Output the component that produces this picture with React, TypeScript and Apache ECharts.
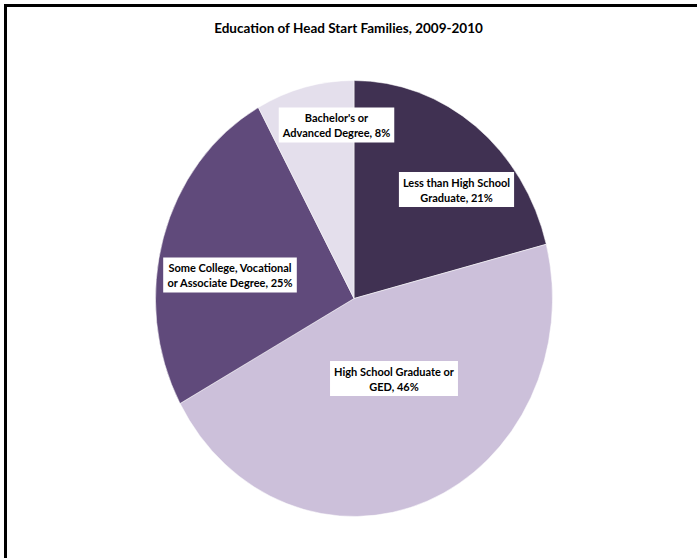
import React, { useEffect, useRef } from "react";
import * as echarts from "echarts";

const TITLE = "Education of Head Start Families, 2009-2010";
const categories = [
  "Less than High School\nGraduate",
  "High School Graduate or\nGED",
  "Some College, Vocational\nor Associate Degree",
  "Bachelor's or\nAdvanced Degree",
];
const values = [21, 46, 25, 8];
const colors = ["#403152", "#CCC0DA", "#604A7B", "#E4DFEC"];
// label box centres (layout only)
const labelCenters = [
  [456.5, 189.5],
  [394, 378.5],
  [230, 275],
  [336.5, 125],
];

const W = 697;
const H = 558;
const CX = 354;
const CY = 298.5;
const RX = 198.5;
const RY = 218;
const FONT = "Lato, 'Open Sans', sans-serif";

export default function App() {
  const pieRef = useRef<HTMLDivElement>(null);
  const topRef = useRef<HTMLDivElement>(null);

  useEffect(() => {
    document.body.style.margin = "0";
    const pie = echarts.init(pieRef.current!, undefined, { renderer: "svg" });
    const top = echarts.init(topRef.current!, undefined, { renderer: "svg" });
    const data = categories.map((c, i) => ({ name: c, value: values[i] }));

    pie.setOption({
      animation: false,
      series: [
        {
          type: "pie",
          center: [CX, CY],
          radius: RX,
          startAngle: 90,
          clockwise: true,
          silent: true,
          label: { show: false },
          labelLine: { show: false },
          itemStyle: {
            color: (p: any) => colors[p.dataIndex],
            borderColor: "#ffffff",
            borderWidth: 0.5,
          },
          data,
        },
      ],
    });

    top.setOption({
      animation: false,
      title: {
        text: TITLE,
        left: "center",
        top: 16,
        textStyle: {
          fontFamily: FONT,
          fontWeight: "bold",
          fontSize: 13.5,
          color: "#000000",
        },
      },
      graphic: [
        {
          type: "rect",
          shape: { x: 5.5, y: 5.5, width: W + 20, height: H + 20 },
          style: { fill: "none", stroke: "#000000", lineWidth: 3 },
          silent: true,
        },
      ],
      series: [
        {
          type: "pie",
          center: [CX, CY],
          radius: RX,
          startAngle: 90,
          clockwise: true,
          silent: true,
          itemStyle: { color: "rgba(0,0,0,0)" },
          labelLine: { show: false },
          label: {
            show: true,
            position: "inside",
            formatter: (p: any) => `${p.name}, ${p.value}%`,
            backgroundColor: "#ffffff",
            padding: [3, 4, 2, 4],
            color: "#000000",
            fontFamily: FONT,
            fontWeight: "bold",
            fontSize: 11,
            lineHeight: 15,
            align: "center",
          },
          labelLayout: (p: any) => ({
            x: labelCenters[p.dataIndex][0],
            y: labelCenters[p.dataIndex][1],
            align: "center",
            verticalAlign: "middle",
          }),
          data,
        },
      ],
    });

    return () => {
      pie.dispose();
      top.dispose();
    };
  }, []);

  return (
    <div style={{ position: "fixed", left: 0, top: 0, width: W, height: H, background: "#fff", overflow: "hidden" }}>
      <div
        ref={pieRef}
        style={{
          position: "absolute",
          left: 0,
          top: 0,
          width: W,
          height: H,
          transform: `scaleY(${RY / RX})`,
          transformOrigin: `${CX}px ${CY}px`,
        }}
      />
      <div ref={topRef} style={{ position: "absolute", left: 0, top: 0, width: W, height: H }} />
    </div>
  );
}
